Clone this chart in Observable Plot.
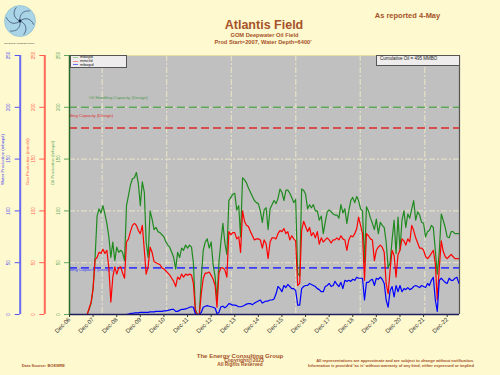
<!DOCTYPE html>
<html><head><meta charset="utf-8">
<script src="https://cdn.jsdelivr.net/npm/d3@7"></script>
<script src="https://cdn.jsdelivr.net/npm/@observablehq/plot@0.6"></script>
<style>
html,body{margin:0;padding:0;background:#fff9cf;}
#wrap{position:relative;width:500px;height:375px;overflow:hidden;font-family:"Liberation Sans",Arial,sans-serif;background:#fff9cf;}
#chart{position:absolute;left:0;top:0;}
.t{position:absolute;white-space:nowrap;color:#a5532a;font-weight:bold;line-height:1;}
.c{transform:translateX(-50%);}
.box{position:absolute;background:#eeecec;border:1px solid #555;box-sizing:border-box;}
.lg{position:absolute;white-space:nowrap;font-size:4.2px;line-height:1;color:#222;}
.sw{position:absolute;height:1px;width:5px;}
</style></head><body>
<div id="wrap">
  <div id="chart"></div>
  <svg style="position:absolute;left:2.5px;top:4px" width="34" height="34" viewBox="0 0 34 34">
    <circle cx="17" cy="17" r="15.5" fill="#a9d5e6" stroke="#86b7cc" stroke-width="0.6"/>
    <g fill="none" stroke="#27385a" stroke-width="0.6">
      <path d="M17,17 C16,11 20,6 27,7"/>
      <path d="M17,17 C16,11 20,6 27,7" transform="rotate(60 17 17)"/>
      <path d="M17,17 C16,11 20,6 27,7" transform="rotate(120 17 17)"/>
      <path d="M17,17 C16,11 20,6 27,7" transform="rotate(180 17 17)"/>
      <path d="M17,17 C16,11 20,6 27,7" transform="rotate(240 17 17)"/>
      <path d="M17,17 C16,11 20,6 27,7" transform="rotate(300 17 17)"/>
    </g>
    <circle cx="17" cy="17" r="1.4" fill="#1a2540"/>
  </svg>
  <div class="t" style="left:4px;top:41.5px;font-size:2.3px;font-weight:normal;color:#333">The Energy Consulting Group</div>
  <div class="t c" style="left:264px;top:18.6px;font-size:12.5px">Atlantis Field</div>
  <div class="t c" style="left:264.5px;top:33px;font-size:5.7px">GOM Deepwater Oil Field</div>
  <div class="t c" style="left:263px;top:40.3px;font-size:5.7px">Prod Start=2007, Water Depth=6400'</div>
  <div class="t c" style="left:407.5px;top:11.8px;font-size:7.5px">As reported 4-May</div>

  <div class="box" style="left:69.5px;top:54.5px;width:57px;height:13px"></div>
  <div class="sw" style="left:72.7px;top:57px;background:#9fcf9f"></div>
  <div class="lg" style="left:80px;top:55.4px">mbopd</div>
  <div class="sw" style="left:72.7px;top:60.6px;background:#ff8c8c"></div>
  <div class="lg" style="left:80px;top:59px">mmcfd</div>
  <div class="sw" style="left:72.7px;top:64.2px;background:#7070ff"></div>
  <div class="lg" style="left:80px;top:62.6px">mbwpd</div>

  <div class="box" style="left:376px;top:54.5px;width:83.5px;height:11px"></div>
  <div class="lg" style="left:380px;top:57px;font-size:4.5px">Cumulative Oil = 495  MMBO</div>

  <div class="t c" style="left:240px;top:352.6px;font-size:6.1px">The Energy Consulting Group</div>
  <div class="t c" style="left:244px;top:358.2px;font-size:5px">Copyright@2023</div>
  <div class="t c" style="left:240px;top:363px;font-size:4.8px">All Rights Reserved</div>
  <div class="t" style="left:21.7px;top:363.7px;font-size:4px">Data Source: BOEMRE</div>
  <div class="t" style="right:26px;top:358.8px;font-size:4px">All representations are approximate and are subject to change without notification.</div>
  <div class="t" style="right:26px;top:363.7px;font-size:4px">Information is provided 'as is' without warranty of any kind, either expressed or implied</div>
</div>
<script>
// Monthly values starting Dec 2006
const startYear = 2006, startMonthIndex = 11;
const oilMbopd = [
  0,0,0,0,0,0,0,0,0,0,5,11,
  25,55,95,102,98,105,97,88,75,55,70,52,
  65,60,62,60,52,105,115,125,131,132,137,126,
  105,128,118,70,55,100,92,82,84,80,79,77,
  75,70,67,65,60,55,44,60,55,64,62,67,
  64,67,65,50,5,0,0,35,62,70,73,64,
  70,48,36,14,51,70,88,69,58,110,113,116,
  117,101,105,75,132,130,127,122,118,114,110,108,
  107,100,89,101,103,82,102,106,110,107,112,121,
  118,110,120,120,117,113,108,111,40,37,121,120,
  116,102,106,103,106,100,100,91,95,78,89,99,
  101,99,97,96,96,93,106,98,102,88,100,110,
  113,108,114,110,102,100,50,104,100,93,88,82,
  92,78,89,86,84,70,45,50,72,91,59,94,
  62,91,100,84,97,93,102,110,91,99,96,89,
  88,75,80,81,86,84,62,39,60,97,91,84,
  75,74,80,80,78,78,78
];
const gasMmcfd = [
  0,0,0,0,0,0,0,0,0,0,6,12,
  25,53,55,60,59,63,59,62,45,12,36,46,
  39,45,46,40,35,70,73,80,86,88,86,81,
  78,86,62,39,46,65,60,51,50,49,48,45,
  44,42,40,38,35,32,27,36,34,39,36,39,
  38,39,38,30,3,0,0,20,35,40,40,41,
  38,34,28,7,40,45,45,43,36,80,77,79,
  79,73,75,60,100,90,86,85,80,76,72,73,
  73,72,64,72,68,54,70,74,74,73,78,81,
  80,83,78,80,72,76,73,71,28,30,81,90,
  85,80,84,76,79,74,80,68,74,70,72,74,
  72,69,72,72,74,72,76,73,72,62,72,76,
  75,78,83,94,86,78,33,78,76,73,72,52,
  62,65,67,65,60,30,20,43,62,57,36,58,
  62,73,71,67,73,70,86,81,74,69,64,64,
  62,56,54,56,59,62,49,14,45,71,61,56,
  54,56,58,56,54,54,54
];
const waterMbwpd = [
  0,0,0,0,0,0,0,0,0,0,0,0,
  0,0,0,0,0,0,0,0,0,0,0,0,
  0,0,0,0,0,0,0.5,1,1,1.5,1.5,1.5,
  2,2,2,2,2,2.5,2.5,2.5,3,3,3,3,
  3.5,3.5,4,4.5,5,5,3,3,4,5,5,5.5,
  6,7,7.5,7,0.5,0,0,2,7,8,8.5,8,
  7.5,7,6,1,2,7.5,8,6.5,8,10.5,10,9,
  9,8.5,7.5,7.5,8,9,10,10.5,10.5,9.5,11,12,
  13,14,11,12,13,13,14,14,15,20,27,25,
  22,28,26,29,27,25,25,23,9,9,25,27,
  28,28,30,29,28,27,25,24,22,22,27,28,
  30,27,28,32,29,27,31,25,33,32,33,32,
  34,33,36,35,35,35,14,31,31,33,34,28,
  35,34,36,34,30,14,7,23,27,17,28,22,
  28,22,25,24,26,24,25,27,28,27,26,28,
  27,26,30,28,33,36,14,3,33,35,33,31,
  30,35,33,33,35,36,30
];
const yTicks = [0, 50, 100, 150, 200, 250];
const xTickDates = ["2006-12-01","2007-12-01","2008-12-01","2009-12-01","2010-12-01","2011-12-01",
  "2012-12-01","2013-12-01","2014-12-01","2015-12-01","2016-12-01","2017-12-01","2018-12-01",
  "2019-12-01","2020-12-01","2021-12-01","2022-12-01"];
const gridDates = ["2008-04-19","2011-01-13","2013-10-08","2016-07-03","2019-03-26","2021-12-20"];
const xDomain = ["2006-12-01", "2023-06-10"];
const capacityNames = ["Oil Handling Capacity (Design)", "Gas Handling Capacity (Design)", "Water Handling Capacity (Design)"];
const capacityValues = [200, 180, 45];
const capacityLabelAt = ["2007-09-28", "2008-10-07", "2008-10-07"];
const axisTitles = ["Oil Production (mbopd)", "Gas Production (mmcfd)", "Water Production (mbwpd)"];

const GREEN = "#1f8a1f", RED = "#ff0000", BLUE = "#0000ff";
const rows = oilMbopd.map((v, i) => ({
  date: new Date(Date.UTC(startYear, startMonthIndex + i, 1)),
  oil: v, gas: gasMmcfd[i], water: waterMbwpd[i]
}));
const D = s => new Date(s + "T00:00:00Z");
const caps = capacityNames.map((n, i) => ({name: n, value: capacityValues[i], at: D(capacityLabelAt[i])}));
const x0 = D(xDomain[0]), x1 = D(xDomain[1]);
const gridStyle = {stroke: "#ebe6c6", strokeOpacity: 1, strokeWidth: 1, strokeDasharray: "6,2,2,2"};

const chart = Plot.plot({
  width: 500, height: 375,
  marginLeft: 69, marginRight: 41, marginTop: 55, marginBottom: 61,
  style: {background: "transparent", fontFamily: "Liberation Sans, Arial, sans-serif", overflow: "visible"},
  x: {type: "utc", domain: [x0, x1]},
  y: {domain: [0, 250]},
  marks: [
    Plot.frame({fill: "#c0c0c0", stroke: "none"}),
    Plot.gridY(yTicks.slice(1), gridStyle),
    Plot.gridX(gridDates.map(D), gridStyle),
    Plot.ruleY([caps[0].value], {stroke: "#5da55a", strokeWidth: 1.6, strokeDasharray: "8,4"}),
    Plot.ruleY([caps[1].value], {stroke: "#dc2a2a", strokeWidth: 1.4, strokeDasharray: "8,4"}),
    Plot.ruleY([caps[2].value], {stroke: "#3c3cf5", strokeWidth: 1.6, strokeDasharray: "8,4"}),
    Plot.text([caps[0]], {x: "at", y: "value", text: "name", fill: "#4f9a4c", textAnchor: "start", dy: -10, fontSize: 4.3, clip: true}),
    Plot.text([caps[1]], {x: "at", y: "value", text: "name", fill: "#e02a2a", textAnchor: "end", dy: -12, fontSize: 4.3, clip: true}),
    Plot.text([caps[2]], {x: "at", y: "value", text: "name", fill: "#3c3cf5", textAnchor: "end", dy: 1.5, fontSize: 4.3, clip: true}),
    Plot.line(rows, {x: "date", y: "oil", stroke: GREEN, strokeWidth: 1.2}),
    Plot.line(rows, {x: "date", y: "gas", stroke: RED, strokeWidth: 1.2}),
    Plot.line(rows, {x: "date", y: "water", stroke: BLUE, strokeWidth: 1.2}),
    Plot.ruleY([250], {stroke: "#e6dea0", strokeWidth: 1}),
    Plot.ruleY([0], {stroke: "#1c1c5e", strokeWidth: 1.5}),
    Plot.ruleX([x1], {stroke: "#555", strokeWidth: 1.2}),
    Plot.ruleX([x0], {stroke: "#2a6a2a", strokeWidth: 1.5}),
    // left axes
    Plot.axisY(yTicks, {anchor: "left", tickSize: 5, tickPadding: 5, tickRotate: -90, fontSize: 4.5, color: "#62a862", label: null}),
    Plot.ruleX([x0], {dx: -24.7, stroke: "#ff6a5a", strokeWidth: 2}),
    Plot.axisY(yTicks, {anchor: "left", dx: -24.7, tickSize: 5, tickPadding: 5, tickRotate: -90, fontSize: 4.5, color: "#ff5f50", label: null}),
    Plot.ruleX([x0], {dx: -49.3, stroke: "#6a6af0", strokeWidth: 2}),
    Plot.axisY(yTicks, {anchor: "left", dx: -49.3, tickSize: 5, tickPadding: 5, tickRotate: -90, fontSize: 4.5, color: "#5656ee", label: null}),
    Plot.text([axisTitles[0]], {frameAnchor: "left", rotate: -90, dx: -17.3, fill: "#5ea85e", fontSize: 4.3}),
    Plot.text([axisTitles[1]], {frameAnchor: "left", rotate: -90, dx: -42.3, fill: "#ff5a4a", fontSize: 4.3}),
    Plot.text([axisTitles[2]], {frameAnchor: "left", rotate: -90, dx: -67, fill: "#5050ee", fontSize: 4.3}),
    Plot.axisX(xTickDates.map(D), {tickFormat: d3.utcFormat("%b-%y"), tickRotate: -45, tickSize: 3, tickPadding: 1, fontSize: 6, color: "#333", label: null})
  ]
});
document.getElementById("chart").appendChild(chart);
</script>
</body></html>
